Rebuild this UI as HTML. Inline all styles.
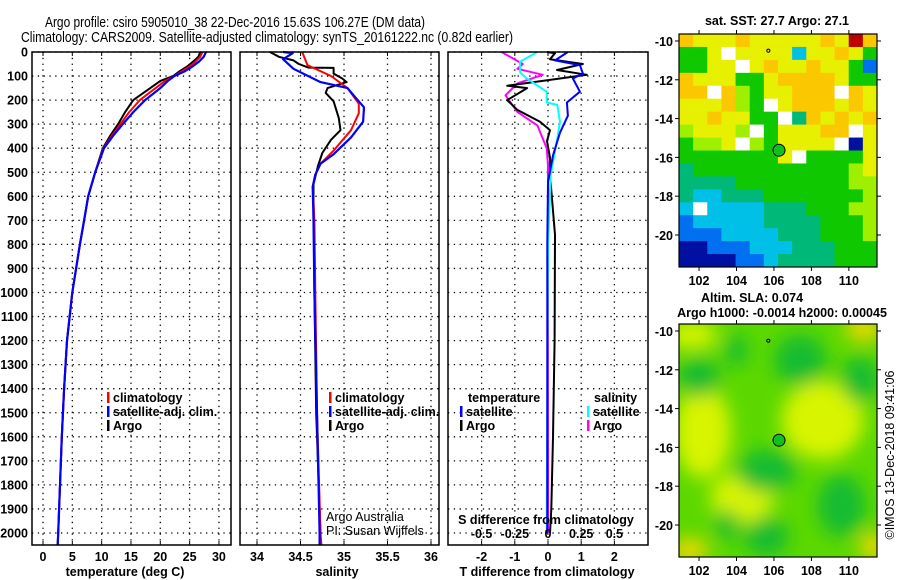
<!DOCTYPE html>
<html><head><meta charset="utf-8"><style>
html,body{margin:0;padding:0;background:#fff;}
svg{display:block;font-family:"Liberation Sans",sans-serif;}
.b{font-weight:bold;font-size:12.5px;}
</style></head><body>
<svg id="fig" width="900" height="580" viewBox="0 0 900 580" xmlns="http://www.w3.org/2000/svg">
<text x="45" y="27" font-size="14.5" textLength="380" lengthAdjust="spacingAndGlyphs">Argo profile: csiro 5905010_38 22-Dec-2016 15.63S 106.27E (DM data)</text>
<text x="21" y="42" font-size="14.5" textLength="492" lengthAdjust="spacingAndGlyphs">Climatology: CARS2009. Satellite-adjusted climatology: synTS_20161222.nc (0.82d earlier)</text>
<g id="plots"></g>
</svg>
<script>
// ---------- data ----------
const depthT = [0,20,40,60,80,100,120,150,200,250,300,350,400,500,600,700,800,1000,1200,1400,1600,1800,2000,2050];
const tempArgo = [26.8,26.5,25.6,24.6,23.3,22.2,20.0,18.3,15.4,14.0,12.8,11.4,10.2,8.9,7.7,7.0,6.3,5.0,4.1,3.6,3.2,2.9,2.6,2.5];
const tempClim = [27.2,26.8,26.0,25.0,23.7,22.4,20.8,19.2,16.5,14.7,13.2,11.7,10.3,8.9,7.7,7.0,6.3,5.0,4.1,3.6,3.2,2.9,2.6,2.5];
const tempSat  = [27.8,27.4,26.6,25.5,24.2,22.4,21.3,20.0,17.4,15.4,13.6,11.9,10.4,8.9,7.7,7.0,6.3,5.0,4.1,3.6,3.2,2.9,2.6,2.5];
const depthSArgo = [0,20,35,50,65,66,90,110,125,150,170,205,275,325,365,420,475,550,600,1000,1500,2000];
const salArgo    = [34.15,34.25,34.42,34.48,34.59,34.88,34.88,34.98,35.03,34.81,34.79,34.88,34.94,34.96,34.85,34.75,34.70,34.65,34.65,34.66,34.68,34.73];
const depthSClim = [0,55,100,150,215,255,325,410,465,510,560,700,1000,1500,2000,2050];
const salClim    = [34.52,34.58,34.85,35.04,35.17,35.17,35.08,34.88,34.73,34.67,34.64,34.66,34.67,34.69,34.73,34.74];
const depthSSat  = [0,5,30,70,125,150,180,230,290,355,425,465,510,560,700,1000,1500,2000,2050];
const salSat     = [34.30,34.41,34.30,34.42,34.73,35.04,35.11,35.23,35.22,35.08,34.88,34.73,34.67,34.64,34.65,34.66,34.69,34.72,34.72];
const depthD = [0,5,30,50,75,95,110,140,150,200,240,290,325,370,440,510,760,1200,1600,1900,2000];
const dTArgo = [-0.03,0.21,0.06,1.05,0.27,1.17,0.36,-1.23,-0.63,-1.23,-0.93,-0.24,0.06,-0.03,0.06,0.06,0.21,0.2,0.15,0.1,0.06];
const depthDSat = [0,35,55,90,110,165,210,265,335,430,540,800,1200,2000];
const dTSat  = [0.60,0.21,0.96,1.05,0.75,0.96,0.57,0.60,0.36,0.15,0.0,-0.02,-0.02,-0.02];
const depthDSA = [0,50,70,95,130,180,250,305,400,470,2000];
const dSArgo = [-0.35,-0.19,-0.23,-0.04,-0.23,-0.32,-0.23,-0.08,-0.01,0.0,0.0];
const depthDSS = [0,40,85,110,165,210,220,290,360,510,800,2000];
const dSSat  = [-0.08,-0.21,-0.21,-0.16,-0.01,-0.01,0.07,0.09,0.07,0.02,0.0,-0.01];
const depthTicks = [0,100,200,300,400,500,600,700,800,900,1000,1100,1200,1300,1400,1500,1600,1700,1800,1900,2000];
const tTicks = [0,5,10,15,20,25,30];
const sTicks = [34,34.5,35,35.5,36];
const sTickLabels = ["34","34.5","35","35.5","36"];
const dTTicks = [-2,-1,0,1,2];
const dSTicks = [-0.5,-0.25,0,0.25,0.5];
const dSTickLabels = ["-0.5","-0.25","0","0.25","0.5"];
const lonTicks = [102,104,106,108,110];
const latTicks = [-10,-12,-14,-16,-18,-20];
const floatLon = 106.27, floatLat = -15.63;
// SST map coarse colour grid (rows N->S)
const sstRows = [
"OYYYOYYYYYOYRO","GGYWYYYYCYYOYG","GGYYWYOYYOYYGB","OYYYGGYOOOOYGG",
"OOWOgGYYOOOWOY","YYYOgGWYOOOYOY","YYOYYGGWTOYOYO","gYYYgWGYYYOOWY",
"GggYWgGYYYYWDY","GGGGGGGYWGGGGY","TGGGGGGGGGGGgY","TTTTGGGGGGGGgg",
"TCCTTTGGGGGGGg","CWCCCCTTTGGGgg","BCCCCCTTTTGGGg","BBBCCCCTTTGGGg",
"DDBBBCCCTTTGGG","DDDDBBCTTTTGGG"];
// SLA blobs: [lon, lat, rx(deg), ry(deg), type]
const slaLon = [102.2,108.6,104.3,101.6,110.8,101.5,111.3,102.0,107.4,110.6,105.6,109.6,105.6,103.5,104.0];
const slaLat = [-15.2,-14.6,-18.6,-10.2,-9.9,-21.3,-21.1,-12.4,-11.5,-12.5,-17.2,-19.0,-20.6,-20.0,-11.0];
const slaRx  = [1.5,2.2,1.7,1.4,1.0,1.0,0.7,1.1,1.4,1.0,1.6,1.3,1.2,0.6,0.6];
const slaRy  = [2.4,2.0,1.3,0.7,0.6,0.6,0.7,1.0,1.3,1.2,1.1,1.6,1.0,0.8,0.8];
const slaType= ["y","y","y","y","o","o","o","d","d","d","d","d","d","d","d"];

// ---------- helpers ----------
const NS="http://www.w3.org/2000/svg";
const root=document.getElementById('plots');
function el(tag,attrs,parent){const e=document.createElementNS(NS,tag);for(const k in attrs)e.setAttribute(k,attrs[k]);(parent||root).appendChild(e);return e;}
function txt(s,x,y,attrs,parent){const t=el('text',Object.assign({x:x,y:y},attrs||{}),parent);t.textContent=s;return t;}
const Y0=52, YB=545;
const yD=d=>Y0+d*0.2405;
const xT=v=>43+v*5.865;
const xS=v=>257+(v-34)*87;
const xDT=v=>548+v*33.2;
const xDS=v=>548+v*132.8;

function panel(name,x0,x1,vticks){
  const g=el('g',{});
  
  
  depthTicks.forEach(d=>{const l=el('line',{x1:x0,x2:x1,y1:yD(d),y2:yD(d),stroke:'#000','stroke-width':1.3,'stroke-dasharray':'1.3,4.5'},g);
    
    });
  vticks.forEach(x=>{const l=el('line',{x1:x,x2:x,y1:Y0,y2:YB,stroke:'#000','stroke-width':1.3,'stroke-dasharray':'1.3,4.5'},g);
    
    
    el('line',{x1:x,x2:x,y1:YB,y2:YB-4,stroke:'#000','stroke-width':1},g);
    el('line',{x1:x,x2:x,y1:Y0,y2:Y0+4,stroke:'#000','stroke-width':1},g);});
  return g;
}
function frame(g,x0,x1){const r=el('rect',{x:x0,y:Y0,width:x1-x0,height:YB-Y0,fill:'none',stroke:'#000','stroke-width':1.5},g);
  
  }
function line(g,xs,ds,fx,col,w,name){
  const pts=xs.map((v,i)=>fx(v).toFixed(1)+','+yD(ds[i]).toFixed(1)).join(' ');
  const p=el('polyline',{points:pts,fill:'none',stroke:col,'stroke-width':w||2,'stroke-linejoin':'round'},g);
  
  
}
function legendItem(g,x,y,col,label,name){
  const m=el('rect',{x:x,y:y-10,width:2.5,height:11,fill:col},g);
  
  
  const t=txt(label,x+6,y,{class:'b'},g);
  
  
}

// depth labels
depthTicks.forEach(d=>{const t=txt(String(d),28,yD(d)+4.5,{class:'b','text-anchor':'end'});
  
  });

// Panel 1 temperature
const g1=panel('temperature-panel',32,231,tTicks.map(xT));
line(g1,tempArgo,depthT,xT,'#000',2,'temperature-argo-line');
line(g1,tempClim,depthT,xT,'#f00',2,'temperature-climatology-line');
line(g1,tempSat,depthT,xT,'#00f',2.2,'temperature-satellite-line');
frame(g1,32,231);
tTicks.forEach(v=>{const t=txt(String(v),xT(v),561,{class:'b','text-anchor':'middle'},g1);
  
  });
const xt1=txt('temperature (deg C)',125,576,{class:'b','text-anchor':'middle'},g1);


legendItem(g1,107,402,'#f00','climatology','legend-climatology');
legendItem(g1,107,416,'#00f','satellite-adj. clim.','legend-satellite-adj');
legendItem(g1,107,430,'#000','Argo','legend-argo');

// Panel 2 salinity
const g2=panel('salinity-panel',240,439,sTicks.map(xS));
line(g2,salArgo,depthSArgo,xS,'#000',2,'salinity-argo-line');
line(g2,salClim,depthSClim,xS,'#f00',2,'salinity-climatology-line');
line(g2,salSat,depthSSat,xS,'#00f',2.2,'salinity-satellite-line');
frame(g2,240,439);
sTicks.forEach((v,i)=>{const t=txt(sTickLabels[i],xS(v),561,{class:'b','text-anchor':'middle'},g2);
  
  });
const xt2=txt('salinity',337,576,{class:'b','text-anchor':'middle'},g2);


legendItem(g2,329,402,'#f00','climatology','legend-climatology-sal');
legendItem(g2,329,416,'#00f','satellite-adj. clim.','legend-satellite-adj-sal');
legendItem(g2,329,430,'#000','Argo','legend-argo-sal');
const c1=txt('Argo Australia',326,521,{'font-size':12.5},g2);


const c2=txt('PI: Susan Wijffels',326,535,{'font-size':12.5},g2);



// Panel 3 differences
const g3=panel('difference-panel',448,648,dTTicks.map(xDT));
line(g3,dSArgo,depthDSA,xDS,'#f0f',2,'salinity-diff-argo-line');
line(g3,dTArgo,depthD,xDT,'#000',2,'temperature-diff-argo-line');
line(g3,dSSat,depthDSS,xDS,'#0ff',2,'salinity-diff-satellite-line');
line(g3,dTSat,depthDSat,xDT,'#00f',2,'temperature-diff-satellite-line');
frame(g3,448,648);
dTTicks.forEach(v=>{const t=txt(String(v),xDT(v),561,{class:'b','text-anchor':'middle'},g3);
  
  });
dSTicks.forEach((v,i)=>{const t=txt(dSTickLabels[i],xDS(v),538,{class:'b','text-anchor':'middle'},g3);
  
  });
const xt3=txt('T difference from climatology',547,576,{class:'b','text-anchor':'middle'},g3);


const xt4=txt('S difference from climatology',546,524,{class:'b','text-anchor':'middle'},g3);


const lt=txt('temperature',468,402,{class:'b'},g3);


legendItem(g3,460,416,'#00f','satellite','legend-t-satellite');
legendItem(g3,460,430,'#000','Argo','legend-t-argo');
const ls=txt('salinity',594,402,{class:'b'},g3);


legendItem(g3,587,416,'#0ff','satellite','legend-s-satellite');
legendItem(g3,587,430,'#f0f','Argo','legend-s-argo');

// ---------- maps ----------
const MX0=679,MX1=877;
const mLon=v=>MX0+(v-100.93)*18.73;
const mLatT=v=>34+(-9.64-v)*19.4;
const mLatB=v=>324+(-9.64-v)*19.4;
const pal={Y:'#e6f000',O:'#fbc800',R:'#c00000',G:'#10c800',g:'#9ef000',T:'#00b878',C:'#00c0e8',B:'#0070f0',D:'#0010a0',W:'#ffffff'};
function mapAxes(g,fy,y0,y1,ylab){
  lonTicks.forEach(v=>{el('line',{x1:mLon(v),x2:mLon(v),y1:y0,y2:y0-4,stroke:'#000'},g);el('line',{x1:mLon(v),x2:mLon(v),y1:y1,y2:y1+4,stroke:'#000'},g);
    const t=txt(String(v),mLon(v),ylab,{class:'b','font-size':13,'text-anchor':'middle'},g);
    
    });
  latTicks.forEach(v=>{el('line',{x1:MX0,x2:MX0-4,y1:fy(v),y2:fy(v),stroke:'#000'},g);el('line',{x1:MX1,x2:MX1+4,y1:fy(v),y2:fy(v),stroke:'#000'},g);
    const t=txt(String(v),673,fy(v)+5,{class:'b','font-size':13,'text-anchor':'end'},g);
    
    });
  const r=el('rect',{x:MX0,y:y0,width:MX1-MX0,height:y1-y0,fill:'none',stroke:'#000','stroke-width':1.2},g);
  
  
  const c=el('circle',{cx:mLon(floatLon),cy:fy(floatLat),r:6,fill:'#10c020',stroke:'#000','stroke-width':1},g);
  
  
  const p=el('circle',{cx:mLon(105.7),cy:fy(-10.5),r:1.6,fill:'none',stroke:'#000','stroke-width':1},g);
  
  
}
// SST map
const gm=el('g',{});


const rows=sstRows.length, cols=sstRows[0].length, cw=(MX1-MX0)/cols, ch=(267-34)/rows;
sstRows.forEach((r,i)=>{for(let j=0;j<cols;j++){const c=el('rect',{x:MX0+j*cw,y:34+i*ch,width:cw+0.5,height:ch+0.5,fill:pal[r[j]]},gm);
  
  }});
mapAxes(gm,mLatT,34,267,285);
const st=txt('sat. SST: 27.7 Argo: 27.1',777,25,{class:'b','font-size':13,'text-anchor':'middle'},gm);


// SLA map
const defs=el('defs',{});
const f=el('filter',{id:'blur',x:'-50%',y:'-50%',width:'200%',height:'200%'},defs);
el('feGaussianBlur',{stdDeviation:9},f);
el('clipPath',{id:'clipB'},defs);
el('rect',{x:MX0,y:324,width:MX1-MX0,height:233},document.getElementById('clipB'));
const gs=el('g',{});


const gf=el('g',{'clip-path':'url(#clipB)'},gs);
el('rect',{x:MX0,y:324,width:MX1-MX0,height:233,fill:'#5cd800'},gf);
const gb=el('g',{filter:'url(#blur)'},gf);
const slaCol={y:'#d8f400',o:'#f4d800',d:'#18bc30'};
slaLon.forEach((v,i)=>{const e=el('ellipse',{cx:mLon(v),cy:mLatB(slaLat[i]),rx:slaRx[i]*18.7,ry:slaRy[i]*19.4,fill:slaCol[slaType[i]]},gb);
  
  });
mapAxes(gs,mLatB,324,557,575);
const s1=txt('Altim. SLA: 0.074',752,302,{class:'b','font-size':13,'text-anchor':'middle'},gs);


const s2=txt('Argo h1000: -0.0014 h2000: 0.00045',782,317,{class:'b','font-size':13,'text-anchor':'middle'},gs);


const cp=txt('©IMOS 13-Dec-2018 09:41:06',0,0,{'font-size':12.5,'text-anchor':'middle',transform:'translate(894,455) rotate(-90)'});


</script>
</body></html>
